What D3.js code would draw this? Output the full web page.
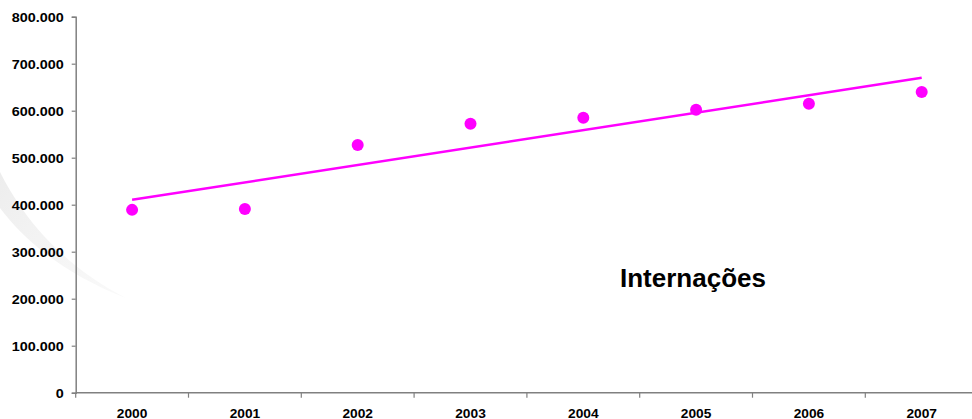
<!DOCTYPE html>
<html>
<head>
<meta charset="utf-8">
<script src="https://cdn.jsdelivr.net/npm/d3@7"></script>
<style>
  html, body { margin: 0; padding: 0; background: #ffffff; }
  svg { display: block; }
  text { font-family: "Liberation Sans", Arial, sans-serif; font-weight: bold; fill: #000; }
</style>
</head>
<body>
<svg id="chart" width="972" height="419"></svg>
<script>
// Hospital admissions per year
const years = ["2000", "2001", "2002", "2003", "2004", "2005", "2006", "2007"];
const admissions = [389000, 391000, 527000, 572000, 585000, 602000, 615000, 640000];
const yTicks = [0, 100000, 200000, 300000, 400000, 500000, 600000, 700000, 800000];
const seriesLabel = "Internações";

const svg = d3.select("#chart");
const W = 972, H = 419;

// Plot frame
const plotLeft = 75.7, plotTop = 16.7, plotBottom = 392.7;
const bandW = 112.8;

const ptBR = d3.formatLocale({ decimal: ",", thousands: ".", grouping: [3], currency: ["R$", ""] });
const fmt = ptBR.format(",");

const x = d3.scaleBand().domain(years).range([plotLeft, plotLeft + bandW * years.length]).padding(0);
const y = d3.scaleLinear().domain([0, 800000]).range([plotBottom, plotTop]);

// Soft decorative swoosh in the background
const defs = svg.append("defs");
const grad = defs.append("linearGradient").attr("id", "swoosh").attr("x1", 0).attr("y1", 0).attr("x2", 1).attr("y2", 1);
grad.append("stop").attr("offset", 0).attr("stop-color", "#ebebeb").attr("stop-opacity", 0.9);
grad.append("stop").attr("offset", 1).attr("stop-color", "#f6f6f6").attr("stop-opacity", 0.6);
svg.append("path")
  .attr("d", "M0,172 C18,208 55,262 126,298 C64,274 24,240 0,208 Z")
  .attr("fill", "url(#swoosh)");

// Y axis
const yAxis = d3.axisLeft(y).tickValues(yTicks).tickFormat(fmt).tickSize(4).tickPadding(0);
const gy = svg.append("g").attr("transform", `translate(${plotLeft},0)`).call(yAxis);
gy.select(".domain").attr("stroke", "#808080").attr("stroke-width", 1.5);
gy.selectAll(".tick line").attr("stroke", "#808080").attr("stroke-width", 1.2);
gy.selectAll(".tick text")
  .attr("font-size", 12)
  .attr("x", 0).attr("dy", "0.36em")
  .attr("transform", "translate(-12,0) scale(1.2,1)")
  .style("font-family", "'Liberation Sans', Arial, sans-serif")
  .style("font-weight", "bold")
  .attr("fill", "#000");

// X axis (category axis with ticks between categories)
const gx = svg.append("g").attr("transform", `translate(0,${plotBottom})`);
gx.append("line").attr("x1", plotLeft).attr("x2", W).attr("y1", 0).attr("y2", 0)
  .attr("stroke", "#808080").attr("stroke-width", 1.5);
gx.selectAll("line.tick").data(years).enter().append("line").attr("class", "tick")
  .attr("x1", d => x(d)).attr("x2", d => x(d)).attr("y1", 0).attr("y2", 5)
  .attr("stroke", "#808080").attr("stroke-width", 1.2);
gx.selectAll("text").data(years).enter().append("text")
  .attr("transform", d => `translate(${x(d) + x.bandwidth() / 2},24.8) scale(1.1,1)`)
  .attr("text-anchor", "middle")
  .attr("font-size", 12.5)
  .text(d => d);

// Linear trend line (least squares over the yearly values)
const n = admissions.length;
const xs = d3.range(n);
const mx = d3.mean(xs), my = d3.mean(admissions);
const slope = d3.sum(xs, i => (i - mx) * (admissions[i] - my)) / d3.sum(xs, i => (i - mx) * (i - mx));
const intercept = my - slope * mx;
const cx = i => x(years[i]) + x.bandwidth() / 2;
const trend = [0, n - 1].map(i => [cx(i), y(intercept + slope * i)]);
svg.append("path")
  .attr("d", d3.line()(trend))
  .attr("fill", "none")
  .attr("stroke", "#ff00ff")
  .attr("stroke-width", 2.5);

// Data points
svg.selectAll("circle.pt").data(admissions).enter().append("circle")
  .attr("class", "pt")
  .attr("cx", (d, i) => cx(i))
  .attr("cy", d => y(d))
  .attr("r", 6)
  .attr("fill", "#ff00ff");

// Series label
svg.append("text")
  .attr("x", 620).attr("y", 287)
  .attr("font-size", 26)
  .text(seriesLabel);
</script>
</body>
</html>
